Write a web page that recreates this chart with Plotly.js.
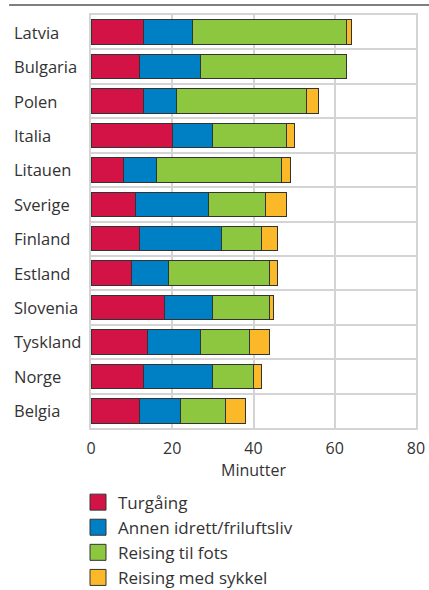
<!DOCTYPE html>
<html>
<head>
<meta charset="utf-8">
<script src="https://cdn.plot.ly/plotly-3.0.1.min.js"></script>
<style>
html,body{margin:0;padding:0;background:#fff;}
#chart{width:429px;height:590px;}
</style>
</head>
<body>
<div id="chart"></div>
<script>
// Data (top to bottom as shown)
var countries = ["Latvia","Bulgaria","Polen","Italia","Litauen","Sverige","Finland","Estland","Slovenia","Tyskland","Norge","Belgia"];
var seriesNames = ["Turgåing","Annen idrett/friluftsliv","Reising til fots","Reising med sykkel"];
var turgaing   = [13, 12, 13, 20,  8, 11, 12, 10, 18, 14, 13, 12];
var annen      = [12, 15,  8, 10,  8, 18, 20,  9, 12, 13, 17, 10];
var tilFots    = [38, 36, 32, 18, 31, 14, 10, 25, 14, 12, 10, 11];
var sykkel     = [1.2, 0,  3,  2,  2,  5,  4,  2,  1,  5,  2,  5];
var xTicks = [0, 20, 40, 60, 80];
var xTitle = "Minutter";

var colors = ["#d31245", "#0080c4", "#8dc63f", "#fbb829"];
var seriesValues = [turgaing, annen, tilFots, sykkel];
var FONT = "Open Sans, sans-serif";
var TXT = "#333333";
var GRID = "#d4d4d4";

var traces = [];
seriesValues.forEach(function(vals, i){
  traces.push({
    type: "bar", orientation: "h",
    x: vals, y: countries, name: seriesNames[i],
    marker: {color: colors[i], line: {color: "#333333", width: 1}},
    showlegend: false, hoverinfo: "x+y+name"
  });
});
// legend entries
seriesNames.forEach(function(n, i){
  traces.push({
    type: "scatter", mode: "markers", x: [null], y: [null], name: n,
    marker: {symbol: "square", size: 20, color: colors[i], line: {color: "#333333", width: 1}},
    showlegend: true, hoverinfo: "skip"
  });
});

var annotations = countries.map(function(c){
  return {xref: "paper", yref: "y", x: -0.243, y: c, text: c, showarrow: false,
          xanchor: "left", yanchor: "middle", font: {family: FONT, size: 16.5, color: TXT}};
});

var layout = {
  width: 429, height: 590,
  margin: {l: 91, r: 13, t: 15, b: 162, autoexpand: false},
  paper_bgcolor: "#fff", plot_bgcolor: "#fff",
  barmode: "stack", bargap: 0.29,
  font: {family: FONT, size: 16, color: TXT},
  xaxis: {
    range: [0, 80], tickvals: xTicks, ticktext: xTicks.map(String),
    showgrid: true, gridcolor: GRID, gridwidth: 2, zeroline: false,
    showline: true, linecolor: GRID, linewidth: 2, mirror: true,
    ticks: "", ticklabelstandoff: 5, tickfont: {family: FONT, size: 16, color: TXT},
    title: {text: xTitle, font: {family: FONT, size: 16, color: TXT}, standoff: 4},
    fixedrange: true
  },
  yaxis: {
    type: "category", categoryorder: "array", categoryarray: countries,
    autorange: "reversed", tickson: "boundaries",
    showgrid: true, gridcolor: GRID, gridwidth: 2,
    showline: true, linecolor: GRID, linewidth: 2, mirror: true,
    ticks: "", showticklabels: false, fixedrange: true
  },
  legend: {
    x: -0.04, xanchor: "left", y: -0.137, yanchor: "top",
    orientation: "v", traceorder: "normal",
    font: {family: FONT, size: 17, color: TXT},
    bgcolor: "rgba(0,0,0,0)", itemsizing: "trace", tracegroupgap: 0
  },
  annotations: annotations,
  shapes: [{type: "line", xref: "paper", yref: "paper", x0: -0.252, x1: 1.05, y0: 1.024, y1: 1.024,
            line: {color: "#555555", width: 1.5}}]
};

Plotly.newPlot("chart", traces, layout, {displayModeBar: false, staticPlot: true});
</script>
</body>
</html>
